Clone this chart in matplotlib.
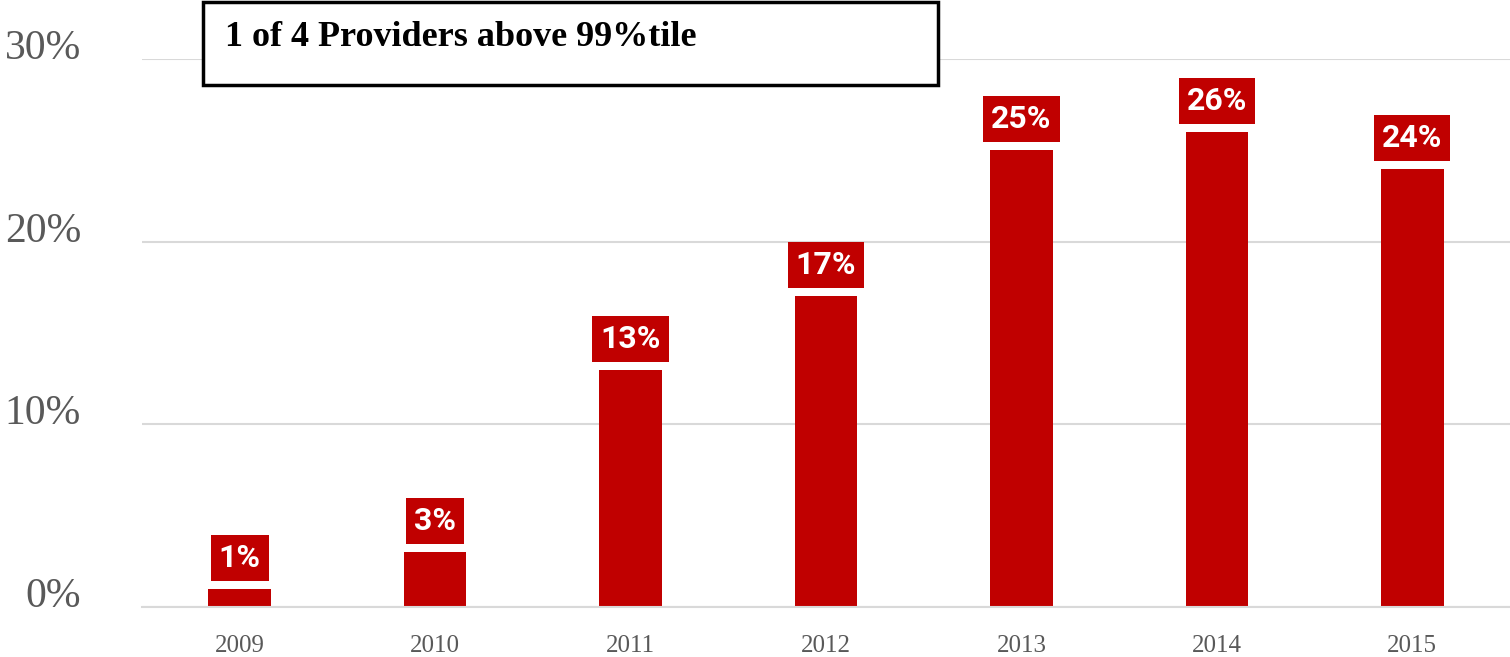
import matplotlib.pyplot as plt
from matplotlib.patches import Rectangle

# data
years = ["2009", "2010", "2011", "2012", "2013", "2014", "2015"]
share = [1, 3, 13, 17, 25, 26, 24]
yticks = [0, 10, 20, 30]
title = "1 of 4 Providers above 99%tile"

red = "#C00000"
grid = "#d9d9d9"

fig = plt.figure(figsize=(15.1, 6.57), dpi=100)
ax = fig.add_axes([142 / 1510, 50 / 657, 1 - 142 / 1510, 548 / 657])

x = range(len(years))
ax.bar(x, share, width=0.32, color=red, zorder=3)

lab_size = 23
pad = 0.25
pad_px = pad * lab_size * 100 / 72
for xi, v in zip(x, share):
    ax.annotate(f"{v}%", (xi, v), xytext=(0, 8 + pad_px), textcoords="offset pixels",
                ha="center", va="bottom", color="white", fontsize=lab_size,
                fontweight="bold", family="Roboto", zorder=4,
                bbox=dict(boxstyle=f"square,pad={pad}", fc=red, ec="none"))

ax.set_xlim(-0.5, 6.5)
ax.set_ylim(0, 30)
ax.set_xticks(list(x))
ax.set_xticklabels(years, family="Liberation Serif", fontsize=18, color="#595959")
ax.set_yticks(yticks)
ax.set_yticklabels([f"{t}%" for t in yticks], family="Liberation Serif",
                   fontsize=30, color="#595959")
for t in ax.get_yticklabels():
    t.set_verticalalignment("baseline")
ax.tick_params(axis="y", length=0, pad=44)
ax.tick_params(axis="x", length=0, pad=20)

ax.grid(axis="y", color=grid, linewidth=1.5, zorder=0)
for s in ["top", "right", "left"]:
    ax.spines[s].set_visible(False)
ax.spines["bottom"].set_color(grid)
ax.spines["bottom"].set_linewidth(1.5)
ax.spines["bottom"].set_zorder(5)

# title box
box = Rectangle((203 / 1510, 1 - 85 / 657), 735 / 1510, 83 / 657,
                transform=fig.transFigure, fc="white", ec="black", lw=2.5, zorder=10)
fig.patches.append(box)
fig.text(225 / 1510, 1 - 46 / 657, title, family="Liberation Serif",
         fontweight="bold", fontsize=26, color="black", va="baseline", zorder=11)

fig.savefig("out.png", dpi=100)
